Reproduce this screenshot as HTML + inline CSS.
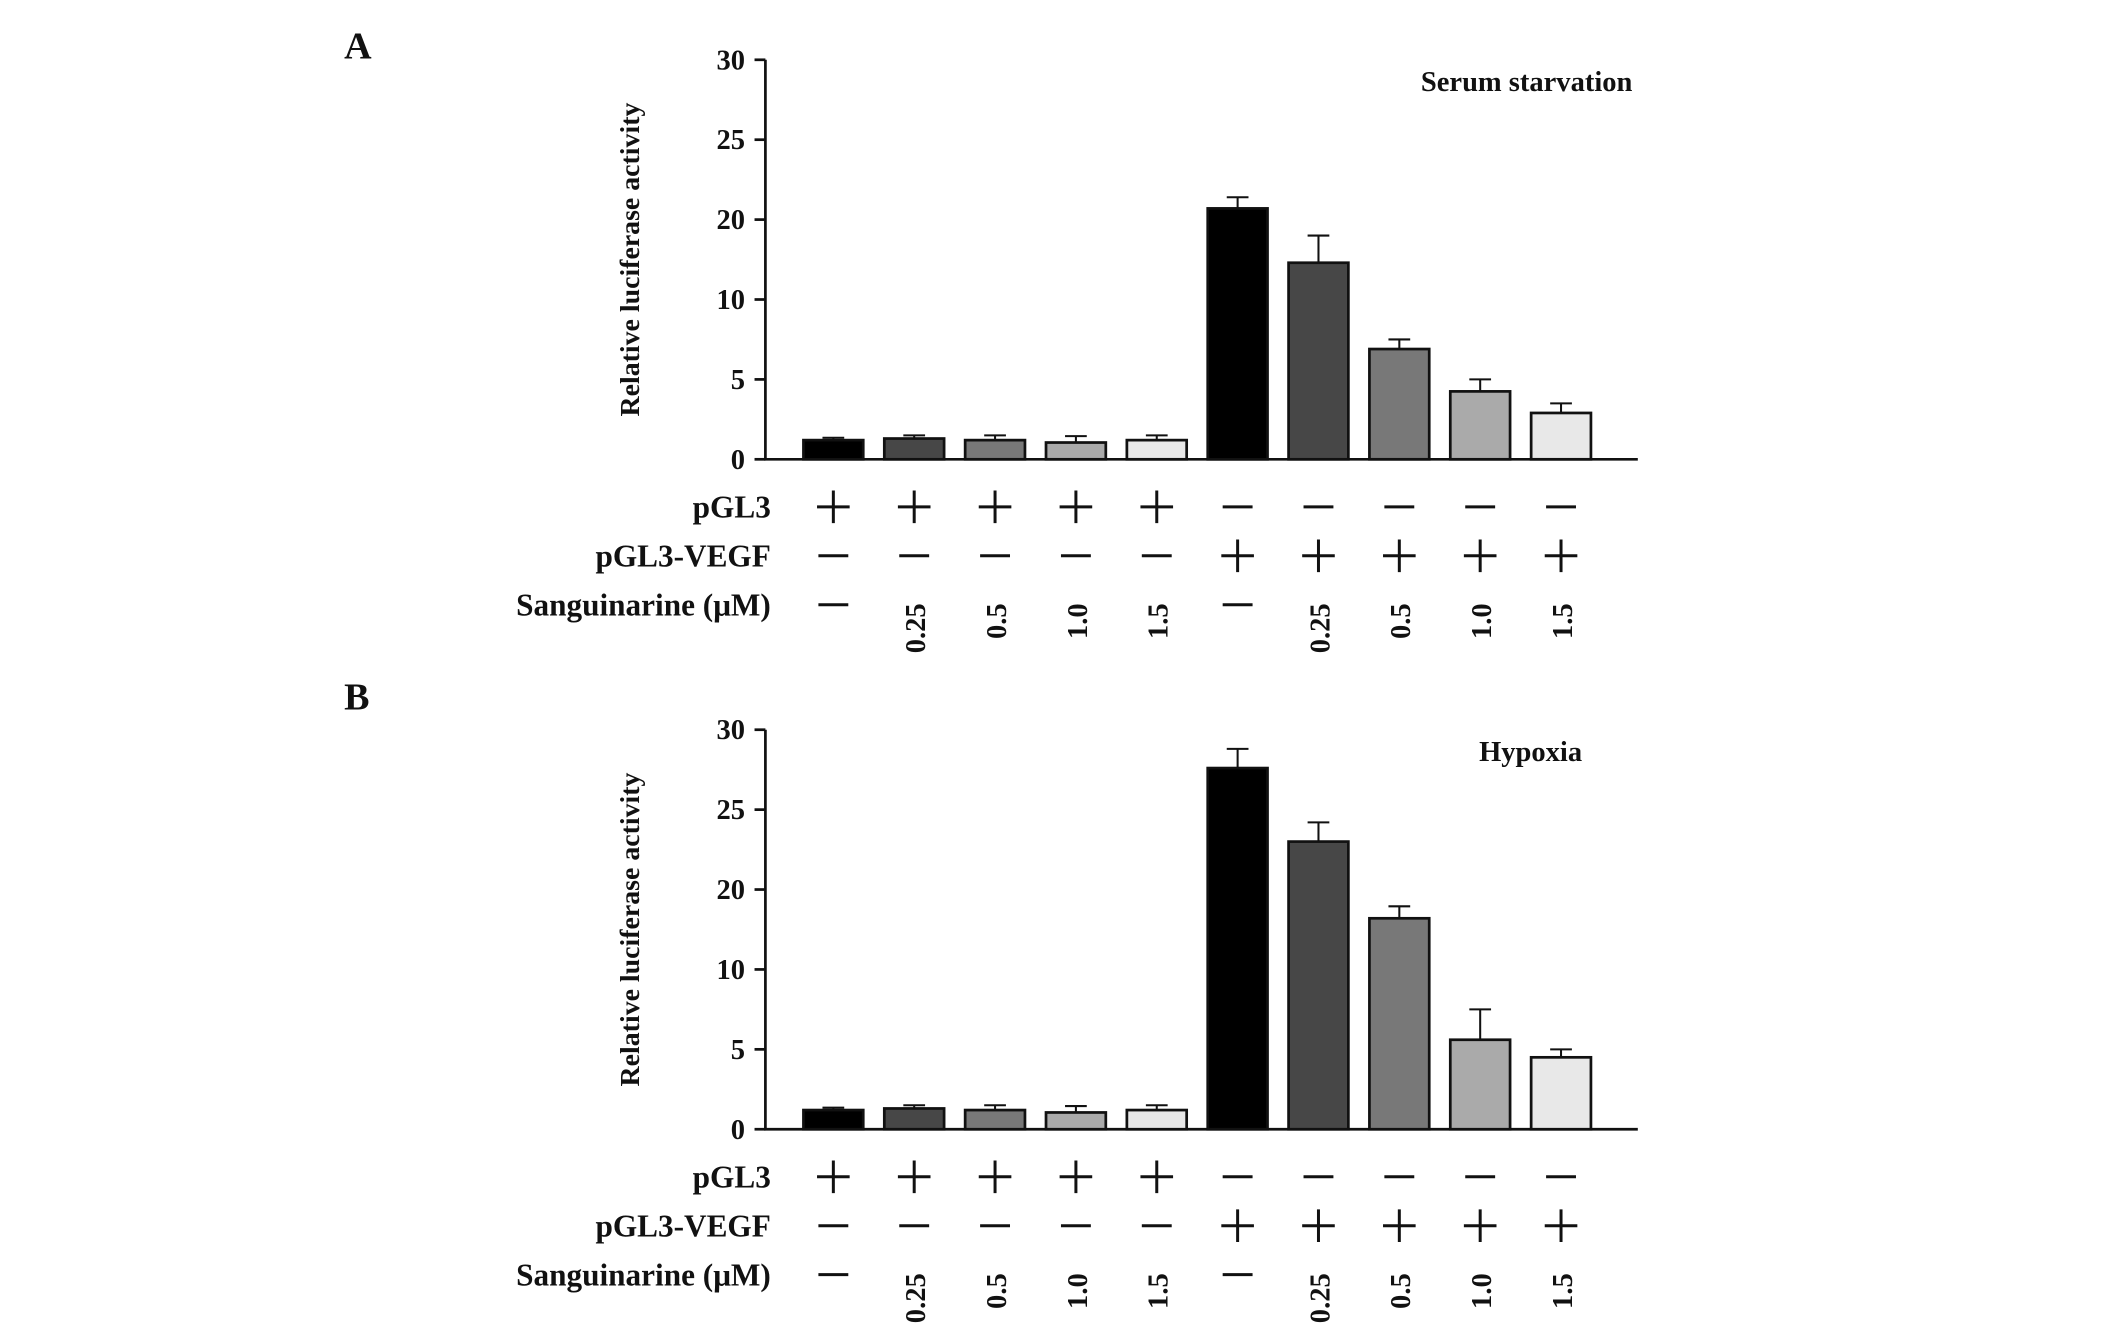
<!DOCTYPE html>
<html><head><meta charset="utf-8"><style>
html,body{margin:0;padding:0;background:#fff}
svg{display:block}
text{font-family:"Liberation Serif",serif;font-weight:bold;fill:#111}
</style></head><body>
<svg id="fig" width="2126" height="1329" viewBox="0 0 1564 978" xmlns="http://www.w3.org/2000/svg"></svg>
<script>
const tickLabels = [0, 5, 10, 20, 25, 30];
const groupColors = ["#000000", "#474747", "#787878", "#aaaaaa", "#e8e8e8"];
const pGL3Row = ["+", "+", "+", "+", "+", "-", "-", "-", "-", "-"];
const vegfRow = ["-", "-", "-", "-", "-", "+", "+", "+", "+", "+"];
const sangRow = ["-", "0.25", "0.5", "1.0", "1.5", "-", "0.25", "0.5", "1.0", "1.5"];
const serumValues = [1.2, 1.3, 1.2, 1.05, 1.2, 20.7, 14.6, 6.9, 4.25, 2.9];
const serumErrors = [1.35, 1.5, 1.5, 1.45, 1.5, 21.4, 18.0, 7.5, 5.0, 3.5];
const hypoxiaValues = [1.2, 1.3, 1.2, 1.05, 1.2, 27.6, 23.0, 16.4, 5.6, 4.5];
const hypoxiaErrors = [1.35, 1.5, 1.5, 1.45, 1.5, 28.8, 24.2, 17.9, 7.5, 5.0];

const NS = "http://www.w3.org/2000/svg";
const svg = document.getElementById("fig");
function mk(tag, attrs, parent, txt) {
  const e = document.createElementNS(NS, tag);
  for (const k in attrs) e.setAttribute(k, attrs[k]);
  if (txt !== undefined) e.textContent = txt;
  parent.appendChild(e);
  return e;
}
function drawPanel(off, letter, letterY, title, titleX, values, errors, pname) {
  const g = mk("g", {}, svg);
  
  
  const y0 = 338 + off, yTop = 44 + off, step = (y0 - yTop) / 5;
  const yScale = v => {
    for (let i = 0; i < tickLabels.length - 1; i++) {
      if (v <= tickLabels[i + 1]) {
        const f = (v - tickLabels[i]) / (tickLabels[i + 1] - tickLabels[i]);
        return y0 - (i + f) * step;
      }
    }
    return yTop;
  };
  const xScale = i => 613 + i * 59.5;
  const L = mk("text", {x: 253, y: letterY, "font-size": 28}, g, letter);
  
  
  const ya = mk("line", {x1: 563, y1: yTop, x2: 563, y2: y0, stroke: "#111", "stroke-width": 2}, g);
  
  
  const xa = mk("line", {x1: 562, y1: y0, x2: 1205, y2: y0, stroke: "#111", "stroke-width": 2}, g);
  
  
  tickLabels.forEach((t, i) => {
    const y = y0 - i * step;
    const tk = mk("line", {x1: 555, y1: y, x2: 563, y2: y, stroke: "#111", "stroke-width": 2}, g);
    
    
    const tl = mk("text", {x: 548, y: y + 7, "font-size": 21, "text-anchor": "end"}, g, String(t));
    
    
  });
  const yt = mk("text", {x: 0, y: 0, "font-size": 20.5, "text-anchor": "middle", transform: `translate(470,${191 + off}) rotate(-90)`}, g, "Relative luciferase activity");
  
  
  const tt = mk("text", {x: titleX, y: 67 + off, "font-size": 21, "text-anchor": "end"}, g, title);
  
  
  values.forEach((v, i) => {
    const cx = xScale(i), top = yScale(v), et = yScale(errors[i]);
    const eb = mk("line", {x1: cx, y1: et, x2: cx, y2: top, stroke: "#111", "stroke-width": 1.5}, g);
    
    
    const ec = mk("line", {x1: cx - 8, y1: et, x2: cx + 8, y2: et, stroke: "#111", "stroke-width": 1.5}, g);
    
    
    const b = mk("rect", {x: cx - 22, y: top, width: 44, height: y0 - top, fill: groupColors[i % 5], stroke: "#111", "stroke-width": 2}, g);
    
    
  });
  const rows = [["pGL3", 381, pGL3Row], ["pGL3-VEGF", 417, vegfRow], ["Sanguinarine (\u03bcM)", 453, sangRow]];
  rows.forEach(([lab, ry, arr]) => {
    const rl = mk("text", {x: 567, y: ry + off, "font-size": 23, "text-anchor": "end"}, g, lab);
    
    
    arr.forEach((s, i) => {
      const cx = xScale(i), cy = ry - 8 + off;
      if (s === "+") {
        const p = mk("path", {d: `M${cx - 12},${cy} H${cx + 12} M${cx},${cy - 12} V${cy + 12}`, stroke: "#111", "stroke-width": 2.2, fill: "none"}, g);
        
        
      } else if (s === "-") {
        const m = mk("line", {x1: cx - 11, y1: cy, x2: cx + 11, y2: cy, stroke: "#111", "stroke-width": 2.2}, g);
        
        
      } else {
        const n = mk("text", {x: 0, y: 0, "font-size": 21, "text-anchor": "end", transform: `translate(${cx + 8},${444 + off}) rotate(-90)`}, g, s);
        
        
      }
    });
  });
}
drawPanel(0, "A", 43, "Serum starvation", 1201, serumValues, serumErrors, "panel-a");
drawPanel(493, "B", 522, "Hypoxia", 1164, hypoxiaValues, hypoxiaErrors, "panel-b");
</script>
</body></html>
